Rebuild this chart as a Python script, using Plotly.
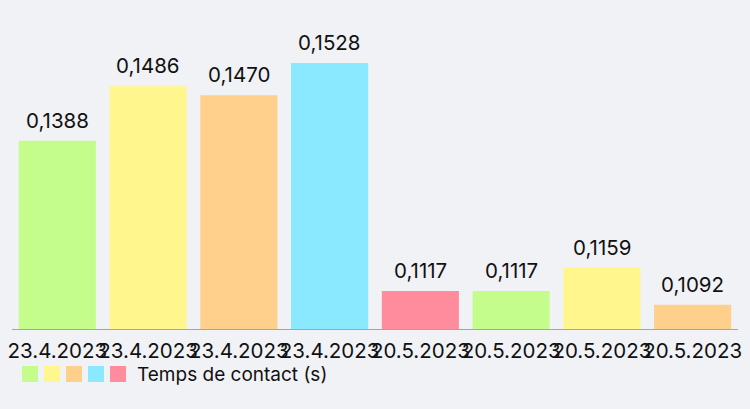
import plotly.graph_objects as go

# Data
categories = ["23.4.2023", "23.4.2023", "23.4.2023", "23.4.2023",
              "20.5.2023", "20.5.2023", "20.5.2023", "20.5.2023"]
values = [0.1388, 0.1486, 0.1470, 0.1528, 0.1117, 0.1117, 0.1159, 0.1092]
palette = ["#c4fd8b", "#fff68d", "#ffcf8c", "#8ae9ff", "#ff8c9d"]
series_name = "Temps de contact (s)"

positions = list(range(len(values)))
bar_colors = [palette[i % len(palette)] for i in positions]

W, H = 750, 409
ML, MR, MT, MB = 12, 12, 20, 80
font_family = "Inter, Roboto, 'Noto Sans', sans-serif"

ymin = min(values) * 0.96
ymax = max(values) + (max(values) - ymin) * 43 / 266

fig = go.Figure()
fig.add_trace(go.Bar(
    x=positions, y=values,
    marker=dict(color=bar_colors, line=dict(width=0)),
    name=series_name, showlegend=False,
    hoverinfo="skip",
))

annotations = []
for x, v in zip(positions, values):
    annotations.append(dict(
        x=x, y=v, xref="x", yref="y",
        text=f"{v:.4f}".replace(".", ","),
        showarrow=False, yanchor="bottom", yshift=6,
        font=dict(size=20.5, color="#111111", family=font_family),
    ))

# Legend (custom, squares in palette colors + label)
plot_h = H - MT - MB
sq = 16
sq_gap = 6
lx0 = 22 - ML
ly_top = 366
shapes = []
plot_w = W - ML - MR
for i, c in enumerate(palette):
    x0 = lx0 + i * (sq + sq_gap)
    shapes.append(dict(
        type="rect", xref="paper", yref="paper",
        x0=x0 / plot_w, x1=(x0 + sq) / plot_w,
        y0=(H - MB - (ly_top + sq)) / plot_h, y1=(H - MB - ly_top) / plot_h,
        fillcolor=c, line=dict(width=0),
    ))
annotations.append(dict(
    x=(135 - ML) / plot_w, y=(H - MB - (ly_top + sq / 2)) / plot_h,
    xref="paper", yref="paper", xanchor="left", yanchor="middle",
    text=series_name, showarrow=False,
    font=dict(size=19, color="#111111", family=font_family),
))

fig.update_layout(
    width=W, height=H,
    margin=dict(l=ML, r=MR, t=MT, b=MB, autoexpand=False),
    paper_bgcolor="#f1f2f6", plot_bgcolor="#f1f2f6",
    bargap=0.15,
    separators=", ",
    font=dict(family=font_family, size=20, color="#111111"),
    xaxis=dict(
        tickmode="array", tickvals=positions, ticktext=categories,
        range=[-0.5, len(values) - 0.5],
        showgrid=False, zeroline=False, automargin=False,
        showline=True, linecolor="#a5a5a8", linewidth=1,
        ticks="outside", ticklen=3, tickcolor="rgba(0,0,0,0)",
        tickfont=dict(size=20.5, color="#111111", family=font_family),
        tickangle=0,
    ),
    yaxis=dict(
        range=[ymin, ymax], visible=False, showgrid=False, zeroline=False,
        automargin=False,
    ),
    annotations=annotations,
    shapes=shapes,
)

fig.write_html(
    "out.html",
    config={"displayModeBar": False},
    post_script="document.body.style.margin='0';document.body.style.background='#f1f2f6';",
)
